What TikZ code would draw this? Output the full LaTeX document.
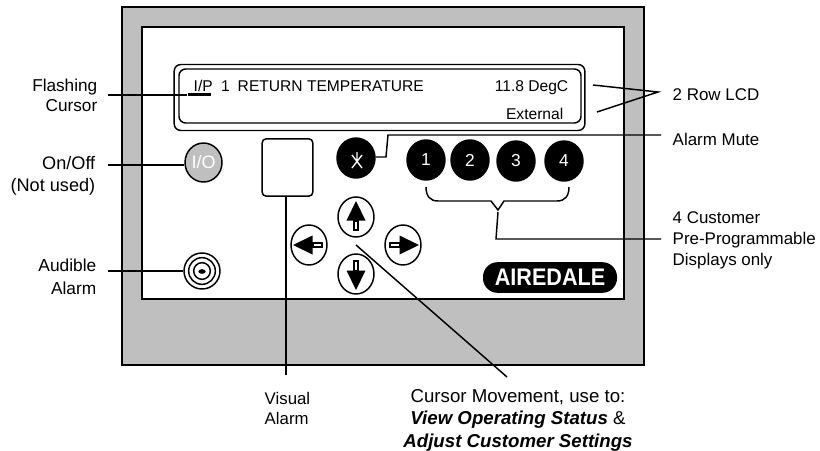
\documentclass[tikz,border=0pt]{standalone}
\usepackage{fontspec}
\setmainfont{Liberation Sans}
\usetikzlibrary{shapes.geometric}

\begin{document}
\begin{tikzpicture}[x=0.75pt,y=-0.75pt,line width=1.1pt,
        lbl/.style={inner sep=0pt,font=\fontsize{12.7}{15.75}\selectfont},
        lcdtxt/.style={inner sep=0pt,font=\fontsize{11.7}{14}\selectfont},
        keybtn/.style={ellipse,draw,inner sep=0pt,minimum width=27pt,minimum height=30pt},
        numkey/.style={keybtn,fill=black,text=white,minimum width=28.5pt,minimum height=30pt,font=\fontsize{13}{15}\selectfont},
        chbox/.style={draw,inner sep=0pt,rounded corners=#1}]
    \useasboundingbox (0,0) rectangle (820,450);
    % panel
    \node[draw,fill=black!25,inner sep=0pt,minimum width=391.5pt,minimum height=268.5pt] (panel) at (383,186) {};
    \node[draw,fill=white,inner sep=0pt,minimum width=361.5pt,minimum height=204pt] (face) at (383,163) {};
    % display
    \node[chbox=5pt,minimum width=308pt,minimum height=49.5pt] (lcdout) at (379.5,97.5) {};
    \node[chbox=5pt,minimum width=301.5pt,minimum height=40.5pt] (lcdin) at (380,96) {};
    \node[lcdtxt,anchor=base west] (ip) at (193,91) {I/P};
    \node[lcdtxt,anchor=base west] (one) at (220.5,91) {1};
    \node[lcdtxt,anchor=base west] (ret) at (237,91) {RETURN TEMPERATURE};
    \node[lcdtxt,anchor=base east] (temp) at (569,91) {11.8 DegC};
    \node[lcdtxt,anchor=base east] (ext) at (564,119.5) {External};
    \coordinate (curs) at (188,94.5); \coordinate (cursend) at (211,94.5);
    \draw[line width=2pt] (curs)--(cursend);
    % keys
    \node[keybtn,fill=black!25,text=white,minimum width=27.75pt,minimum height=29.25pt,font=\fontsize{13.5}{15}\selectfont] (onoff) at (203.5,162.5) {\raisebox{-2.5pt}{I/O}};
    \node[chbox=3pt,minimum width=38pt,minimum height=43pt] (visual) at (287.5,167.5) {};
    \node[numkey] (mute) at (356,158) {};
    \draw[white,line width=1pt] (352,155)--(362,168) (362,155)--(352,168) (357,152)--(357,161);
    \foreach \n/\x/\y in {1/426/160,2/470/160,3/516/161,4/564/161}
        \node[numkey] (num\n) at (\x,\y) {\raisebox{-2pt}{\n}};
    \foreach \n/\x/\y/\a in {up/356/217/0,down/356/274/180,left/309/245/270,right/403/245/90}{
        \node[keybtn] (\n) at (\x,\y) {};
        \begin{scope}[shift={(\x,\y)},rotate=-\a]
            \fill (0,-16)--(9.5,3.5)--(-9.5,3.5)--cycle;
            \draw[fill=white,line width=1.5pt] (-2.2,3.5) rectangle (2.2,13);
        \end{scope}
    }
    % sounder
    \node[ellipse,draw,inner sep=0pt,minimum width=27pt,minimum height=27pt] (sounder) at (202,271) {};
    \node[ellipse,draw,inner sep=0pt,minimum width=20pt,minimum height=20pt] (ring1) at (202,271) {};
    \node[ellipse,draw,inner sep=0pt,minimum width=12.5pt,minimum height=12.5pt] (ring2) at (202,271) {};
    \node[ellipse,fill=black,inner sep=0pt,minimum width=5.5pt,minimum height=3.5pt] (ring3) at (202,271.5) {};
    % logo
    \node[fill=black,rounded corners=11pt,text=white,inner sep=0pt,minimum width=100.5pt,minimum height=23pt,
        font=\fontsize{18}{20}\selectfont\bfseries] (logo) at (550,277.5) {\scalebox{0.9}[1]{AIREDALE}};
    % labels
    \node[lbl,anchor=east,align=right,font=\fontsize{12.9}{15}\selectfont] (flash) at (98,95) {Flashing\\Cursor};
    \node[lbl,anchor=east,align=right,font=\fontsize{13.6}{16.5}\selectfont] (onofftxt) at (96,176) {On/Off\\(Not used)};
    \node[lbl,anchor=east,align=right,font=\fontsize{13}{17.25}\selectfont] (aud) at (97,276.5) {Audible\\Alarm};
    \node[lbl,anchor=west,align=left,font=\fontsize{12.6}{15}\selectfont] (vistxt) at (264,408) {Visual\\Alarm};
    \node[lbl,anchor=west] (rowtxt) at (672,95) {2 Row LCD};
    \node[lbl,anchor=west] (mutetxt) at (672,139) {Alarm Mute};
    \node[lbl,anchor=west,align=left] (custxt) at (672,240) {4 Customer\\Pre-Programmable\\Displays only};
    \node[inner sep=0pt,align=center,anchor=north,font=\fontsize{14}{16.8}\selectfont] (curstxt) at (518,388.5)
        {Cursor Movement, use to:\\\textbf{\textit{View Operating Status}} \&\\\textbf{\textit{Adjust Customer Settings}}};
    % leaders
    \coordinate (a1) at (108,95); \coordinate (a2) at (187,95);
    \draw (a1)--(a2);
    \coordinate (b1) at (108,165); \draw (b1)--(onoff.west|-b1);
    \coordinate (c1) at (108,271); \draw (c1)--(sounder.west);
    \coordinate (d1) at (286,375); \draw (visual.south-|d1)--(d1);
    \coordinate (e1) at (386,157); \coordinate (e2) at (388,135); \coordinate (e3) at (661,135);
    \draw (mute.east|-e1)--(e1)--(e2)--(e3);
    \coordinate (f1) at (593,85); \coordinate (f2) at (658,92); \coordinate (f3) at (597,112);
    \draw (f1)--(f2)--(f3);
    \coordinate (g1) at (356,245); \coordinate (g2) at (507,377);
    \draw (g1)--(g2);
    \coordinate (h1) at (498,212); \coordinate (h2) at (496,239); \coordinate (h3) at (661,239);
    \draw (h1)--(h2)--(h3);
    \draw (426,187) .. controls (426,196) and (430,201) .. (438,201) -- (491,201) -- (498,210) -- (504,201) -- (557,201)
        .. controls (565,201) and (569,196) .. (569,187);
\end{tikzpicture}
\end{document}
